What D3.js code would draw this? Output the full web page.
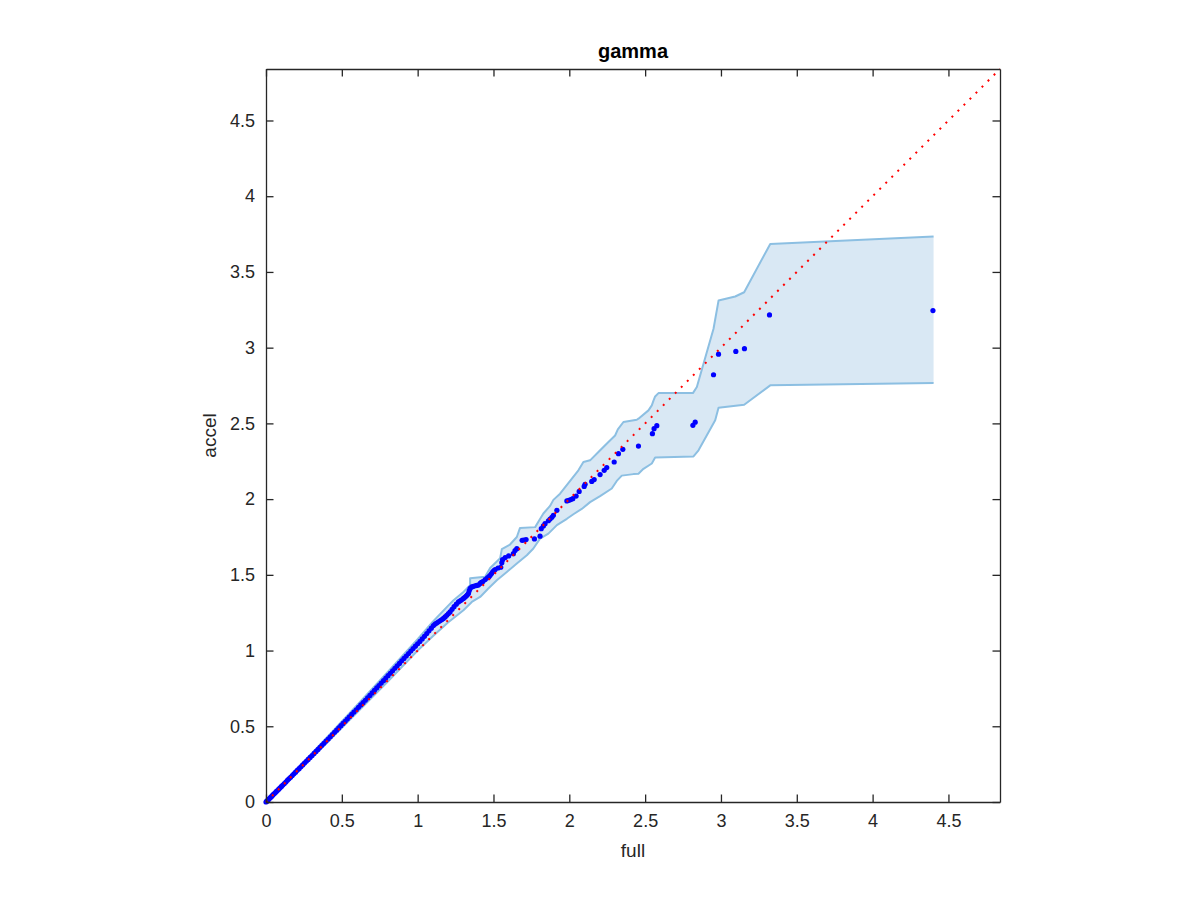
<!DOCTYPE html>
<html>
<head>
<meta charset="utf-8">
<script src="https://cdn.jsdelivr.net/npm/d3@7"></script>
<style>
  html, body { margin: 0; padding: 0; background: #ffffff; }
  svg { display: block; }
</style>
</head>
<body>
<svg id="chart" width="1200" height="900"></svg>
<script>
// ---- data ----
const fullQ = [0.000,0.004,0.008,0.013,0.018,0.024,0.030,0.037,0.044,0.051,0.059,0.067,0.075,0.084,0.093,0.102,0.111,0.121,0.131,0.141,0.151,0.162,0.173,0.184,0.195,0.206,0.218,0.230,0.242,0.254,0.266,0.278,0.291,0.304,0.317,0.330,0.343,0.356,0.369,0.382,0.396,0.410,0.424,0.438,0.452,0.466,0.480,0.494,0.508,0.522,0.536,0.550,0.565,0.580,0.595,0.610,0.625,0.640,0.655,0.670,0.685,0.700,0.715,0.730,0.745,0.760,0.775,0.790,0.805,0.820,0.835,0.850,0.865,0.880,0.895,0.910,0.925,0.940,0.955,0.970,0.985,1.000,1.015,1.030,1.045,1.060,1.075,1.090,1.104,1.115,1.125,1.137,1.150,1.160,1.170,1.181,1.192,1.203,1.214,1.227,1.240,1.255,1.269,1.280,1.290,1.302,1.311,1.320,1.328,1.335,1.340,1.346,1.357,1.368,1.380,1.390,1.401,1.412,1.420,1.430,1.445,1.460,1.470,1.478,1.487,1.495,1.503,1.511,1.530,1.548,1.555,1.560,1.577,1.600,1.631,1.642,1.654,1.689,1.700,1.715,1.770,1.807,1.815,1.829,1.840,1.862,1.873,1.885,1.895,1.918,1.984,1.997,2.010,2.023,2.045,2.065,2.098,2.104,2.148,2.164,2.203,2.230,2.247,2.296,2.324,2.353,2.456,2.548,2.559,2.577,2.815,2.830,2.951,2.984,3.098,3.155,3.320,4.398];
const accelQ = [0.000,0.004,0.008,0.013,0.018,0.024,0.030,0.037,0.045,0.052,0.059,0.068,0.076,0.085,0.094,0.103,0.112,0.122,0.132,0.143,0.153,0.163,0.175,0.186,0.197,0.209,0.220,0.232,0.245,0.257,0.269,0.281,0.294,0.307,0.321,0.334,0.347,0.361,0.374,0.388,0.402,0.416,0.431,0.445,0.460,0.474,0.489,0.504,0.519,0.533,0.548,0.563,0.578,0.594,0.609,0.625,0.641,0.656,0.672,0.688,0.704,0.720,0.737,0.753,0.769,0.785,0.801,0.818,0.834,0.850,0.866,0.883,0.899,0.915,0.932,0.948,0.964,0.980,0.997,1.013,1.029,1.045,1.060,1.077,1.094,1.112,1.130,1.148,1.165,1.175,1.182,1.190,1.198,1.205,1.212,1.222,1.233,1.244,1.255,1.272,1.290,1.306,1.321,1.329,1.335,1.344,1.352,1.360,1.368,1.377,1.395,1.410,1.420,1.424,1.428,1.430,1.433,1.443,1.450,1.456,1.469,1.480,1.488,1.497,1.508,1.520,1.528,1.535,1.545,1.550,1.580,1.600,1.614,1.625,1.640,1.660,1.673,1.728,1.730,1.733,1.737,1.755,1.805,1.823,1.838,1.857,1.868,1.880,1.893,1.926,1.988,1.992,1.997,2.003,2.020,2.051,2.084,2.098,2.117,2.129,2.162,2.190,2.208,2.245,2.300,2.329,2.350,2.432,2.465,2.485,2.487,2.508,2.821,2.957,2.975,2.993,3.216,3.245];

const upperX = [0,0.2,0.4,0.6,0.8,1.0,1.1,1.2,1.235,1.302,1.346,1.346,1.445,1.478,1.544,1.555,1.609,1.654,1.675,1.775,1.796,1.829,1.873,1.895,1.939,2.060,2.093,2.137,2.192,2.258,2.302,2.320,2.357,2.445,2.456,2.522,2.544,2.555,2.566,2.588,2.815,2.841,2.951,2.984,3.094,3.153,3.325,4.402];
const upperY = [0,0.212,0.425,0.640,0.855,1.075,1.190,1.295,1.330,1.387,1.431,1.478,1.487,1.545,1.610,1.670,1.700,1.750,1.810,1.815,1.850,1.905,1.955,1.995,2.036,2.190,2.245,2.256,2.311,2.377,2.420,2.460,2.509,2.524,2.531,2.586,2.619,2.650,2.678,2.700,2.700,2.740,3.125,3.311,3.338,3.366,3.685,3.734];

const lowerX = [0,0.2,0.4,0.6,0.8,1.0,1.1,1.2,1.302,1.357,1.412,1.466,1.522,1.588,1.654,1.720,1.763,1.807,1.862,1.918,1.984,2.027,2.082,2.137,2.203,2.280,2.313,2.346,2.423,2.456,2.489,2.544,2.566,2.819,2.852,2.962,2.984,3.153,3.325,4.402];
const lowerY = [0,0.193,0.390,0.590,0.792,1.000,1.095,1.185,1.266,1.321,1.354,1.410,1.464,1.519,1.575,1.629,1.674,1.739,1.772,1.828,1.870,1.900,1.935,1.980,2.020,2.070,2.120,2.155,2.165,2.168,2.200,2.235,2.274,2.282,2.322,2.520,2.604,2.623,2.751,2.766];

const tickValues = [0,0.5,1,1.5,2,2.5,3,3.5,4,4.5];
const tickLabels = ["0","0.5","1","1.5","2","2.5","3","3.5","4","4.5"];
const axisMax = 4.84;
const titleText = "gamma";
const xLabelText = "full";
const yLabelText = "accel";

// ---- layout ----
const L = 266, R = 1000, T = 69, B = 802;
const font = "'Liberation Sans', Arial, Helvetica, sans-serif";
const axisColor = "#262626";

const svg = d3.select("#chart");
const x = d3.scaleLinear().domain([0, axisMax]).range([L, R]);
const y = d3.scaleLinear().domain([0, axisMax]).range([B, T]);

const upperPts = upperX.map((v, i) => [v, upperY[i]]);
const lowerPts = lowerX.map((v, i) => [v, lowerY[i]]);

const line = d3.line().x(d => x(d[0])).y(d => y(d[1]));

// band fill
svg.append("path")
  .attr("d", line(upperPts.concat(lowerPts.slice().reverse())) + "Z")
  .attr("fill", "rgb(217,232,244)")
  .attr("stroke", "none");

// band edges
[upperPts, lowerPts].forEach(pts => {
  svg.append("path")
    .attr("d", line(pts))
    .attr("fill", "none")
    .attr("stroke", "rgb(140,191,226)")
    .attr("stroke-width", 2)
    .attr("stroke-linejoin", "round");
});

// points
svg.append("g").selectAll("circle")
  .data(fullQ.map((v, i) => [v, accelQ[i]]))
  .join("circle")
  .attr("cx", d => x(d[0]))
  .attr("cy", d => y(d[1]))
  .attr("r", 2.6)
  .attr("fill", "#0000ff");

// reference y = x
svg.append("path")
  .attr("d", line([[0, 0], [axisMax, axisMax]]))
  .attr("fill", "none")
  .attr("stroke", "#ff0000")
  .attr("stroke-width", 2)
  .attr("stroke-dasharray", "2 6.5");

// axes (ticks inside, mirrored box)
const tickLen = 7.5;
const bottomAxis = d3.axisBottom(x).tickValues(tickValues).tickFormat((d, i) => tickLabels[i]).tickSizeInner(-tickLen).tickSizeOuter(0).tickPadding(12);
const topAxis = d3.axisTop(x).tickValues(tickValues).tickFormat("").tickSizeInner(-tickLen).tickSizeOuter(0);
const leftAxis = d3.axisLeft(y).tickValues(tickValues).tickFormat((d, i) => tickLabels[i]).tickSizeInner(-tickLen).tickSizeOuter(0).tickPadding(11);
const rightAxis = d3.axisRight(y).tickValues(tickValues).tickFormat("").tickSizeInner(-tickLen).tickSizeOuter(0);

function styleAxis(g) {
  g.select(".domain").attr("stroke", axisColor).attr("stroke-width", 1.3);
  g.selectAll(".tick line").attr("stroke", axisColor).attr("stroke-width", 1.3);
  g.selectAll(".tick text").attr("fill", axisColor).style("font-family", font).style("font-size", "18px");
}
svg.append("g").attr("transform", `translate(0,${B})`).call(bottomAxis).call(styleAxis);
svg.append("g").attr("transform", `translate(0,${T})`).call(topAxis).call(styleAxis);
svg.append("g").attr("transform", `translate(${L},0)`).call(leftAxis).call(styleAxis);
svg.append("g").attr("transform", `translate(${R},0)`).call(rightAxis).call(styleAxis);

// title and labels
svg.append("text")
  .attr("x", (L + R) / 2).attr("y", 58)
  .attr("text-anchor", "middle")
  .style("font-family", font).style("font-size", "20px").style("font-weight", "bold")
  .attr("fill", "#000")
  .text(titleText);

svg.append("text")
  .attr("x", (L + R) / 2).attr("y", 857)
  .attr("text-anchor", "middle")
  .style("font-family", font).style("font-size", "19px")
  .attr("fill", axisColor)
  .text(xLabelText);

svg.append("text")
  .attr("transform", `translate(216,${(T + B) / 2}) rotate(-90)`)
  .attr("text-anchor", "middle")
  .style("font-family", font).style("font-size", "19px")
  .attr("fill", axisColor)
  .text(yLabelText);
</script>
</body>
</html>
